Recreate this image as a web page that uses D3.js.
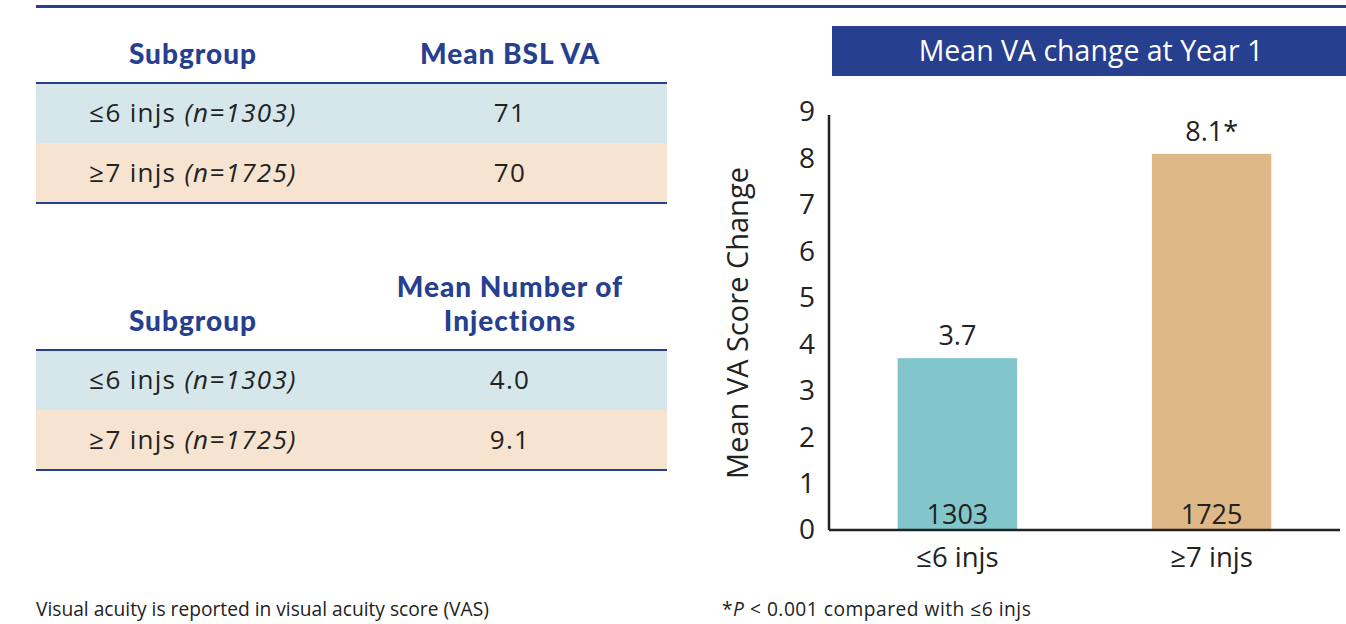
<!DOCTYPE html>
<html>
<head>
<meta charset="utf-8">
<script src="https://cdn.jsdelivr.net/npm/d3@7/dist/d3.min.js"></script>
<style>
  html, body { margin: 0; padding: 0; background: #fff; }
  svg { display: block; font-family: "Open Sans", sans-serif; }
</style>
</head>
<body>
<svg id="chart" width="1346" height="624"></svg>
<script>
// data
const subgroups = ['≤6 injs', '≥7 injs'];
const counts = [1303, 1725];
const meanBslVa = ['71', '70'];
const meanInjections = ['4.0', '9.1'];
const vaChange = [3.7, 8.1];
const vaLabels = ['3.7', '8.1*'];
const yTicks = [0, 1, 2, 3, 4, 5, 6, 7, 8, 9];

const BLUE = '#263f8e';
const TEXT = '#222';
const barColors = ['#82c6cb', '#dfb887'];
const rowColors = ['#d5e7ea', '#f6e4d1'];
const HEAD_FONT = 'Lato, sans-serif';

const svg = d3.select('#chart');

// top rule
svg.append('rect').attr('x', 36).attr('y', 5).attr('width', 1310).attr('height', 3).attr('fill', BLUE);

// tables
function drawTable(yTop, headerLines, values){
  const g = svg.append('g').attr('transform', `translate(0,${yTop})`);
  const x0 = 36, x1 = 667, c1 = 193, c2 = 510, rowH = 60;

  const headText = (xc, yb, txt) => g.append('text').attr('x', xc).attr('y', yb)
    .attr('text-anchor', 'middle').attr('font-family', HEAD_FONT).attr('font-size', 28)
    .attr('font-weight', 900).attr('letter-spacing', 1).attr('fill', BLUE).text(txt);

  headText(c1, -19, 'Subgroup');
  headerLines.forEach((line, i) => {
    headText(c2, -19 - (headerLines.length - 1 - i) * 34, line);
  });

  subgroups.forEach((s, i) => {
    g.append('rect').attr('x', x0).attr('y', i * rowH).attr('width', x1 - x0).attr('height', rowH)
      .attr('fill', rowColors[i]);
    const t = g.append('text').attr('x', c1).attr('y', i * rowH + 39)
      .attr('text-anchor', 'middle').attr('font-size', 26).attr('letter-spacing', 1.3).attr('fill', TEXT);
    t.append('tspan').text(s + ' ');
    t.append('tspan').attr('font-style', 'italic').text(`(n=${counts[i]})`);
    g.append('text').attr('x', c2).attr('y', i * rowH + 39)
      .attr('text-anchor', 'middle').attr('font-size', 26).attr('letter-spacing', 1.3).attr('fill', TEXT).text(values[i]);
  });

  g.append('rect').attr('x', x0).attr('y', -1).attr('width', x1 - x0).attr('height', 2).attr('fill', BLUE);
  g.append('rect').attr('x', x0).attr('y', 2 * rowH - 1).attr('width', x1 - x0).attr('height', 2).attr('fill', BLUE);
}

drawTable(83, ['Mean BSL VA'], meanBslVa);
drawTable(350, ['Mean Number of', 'Injections'], meanInjections);

// chart title box
svg.append('rect').attr('x', 832).attr('y', 26).attr('width', 514).attr('height', 50).attr('fill', BLUE);
svg.append('text').attr('x', 1091).attr('y', 61).attr('text-anchor', 'middle')
  .attr('font-size', 28.5).attr('fill', '#fff').text('Mean VA change at Year 1');

// bar chart
const plotLeft = 829, plotRight = 1340, plotTop = 112, plotBottom = 530;
const x = d3.scaleBand().domain(subgroups).range([plotLeft, plotRight]).paddingInner(0.53).paddingOuter(0.27);
const y = d3.scaleLinear().domain([0, 9]).range([plotBottom, plotTop]);

svg.selectAll('rect.bar').data(subgroups).enter().append('rect')
  .attr('class', 'bar')
  .attr('x', d => x(d))
  .attr('y', (d, i) => y(vaChange[i]))
  .attr('width', x.bandwidth())
  .attr('height', (d, i) => y(0) - y(vaChange[i]))
  .attr('fill', (d, i) => barColors[i]);

svg.selectAll('text.val').data(subgroups).enter().append('text')
  .attr('class', 'val')
  .attr('x', d => x(d) + x.bandwidth() / 2)
  .attr('y', (d, i) => y(vaChange[i]) - 13)
  .attr('text-anchor', 'middle').attr('font-size', 27).attr('fill', TEXT)
  .text((d, i) => vaLabels[i]);

svg.selectAll('text.cnt').data(subgroups).enter().append('text')
  .attr('class', 'cnt')
  .attr('x', d => x(d) + x.bandwidth() / 2)
  .attr('y', plotBottom - 6)
  .attr('text-anchor', 'middle').attr('font-size', 27).attr('fill', TEXT)
  .text((d, i) => counts[i]);

const yAxis = svg.append('g').attr('transform', `translate(${plotLeft},0)`)
  .call(d3.axisLeft(y).tickValues(yTicks).tickSize(0).tickPadding(14));
yAxis.select('.domain').attr('stroke', '#222').attr('stroke-width', 2.5)
  .attr('d', `M0,${plotBottom}V${plotTop + 3}`);
yAxis.selectAll('text').attr('font-size', 28).attr('fill', TEXT).attr('font-family', '"Open Sans", sans-serif');

const xAxis = svg.append('g').attr('transform', `translate(0,${plotBottom})`)
  .call(d3.axisBottom(x).tickSize(0).tickPadding(17));
xAxis.select('.domain').attr('stroke', '#222').attr('stroke-width', 2.5)
  .attr('d', `M${plotLeft},0H${plotRight}`);
xAxis.selectAll('text').attr('font-size', 27.5).attr('fill', TEXT).attr('font-family', '"Open Sans", sans-serif');

svg.append('text')
  .attr('transform', `translate(748,${(plotTop + plotBottom) / 2 + 2}) rotate(-90)`)
  .attr('text-anchor', 'middle').attr('font-size', 29).attr('fill', TEXT)
  .text('Mean VA Score Change');

// footnotes
svg.append('text').attr('x', 36).attr('y', 616).attr('font-size', 19.2).attr('fill', TEXT)
  .text('Visual acuity is reported in visual acuity score (VAS)');
const fn = svg.append('text').attr('x', 722).attr('y', 616).attr('font-size', 19.2)
  .attr('letter-spacing', 0.5).attr('fill', TEXT);
fn.append('tspan').text('*');
fn.append('tspan').attr('font-style', 'italic').text('P');
fn.append('tspan').text(' < 0.001 compared with ≤6 injs');
</script>
</body>
</html>
